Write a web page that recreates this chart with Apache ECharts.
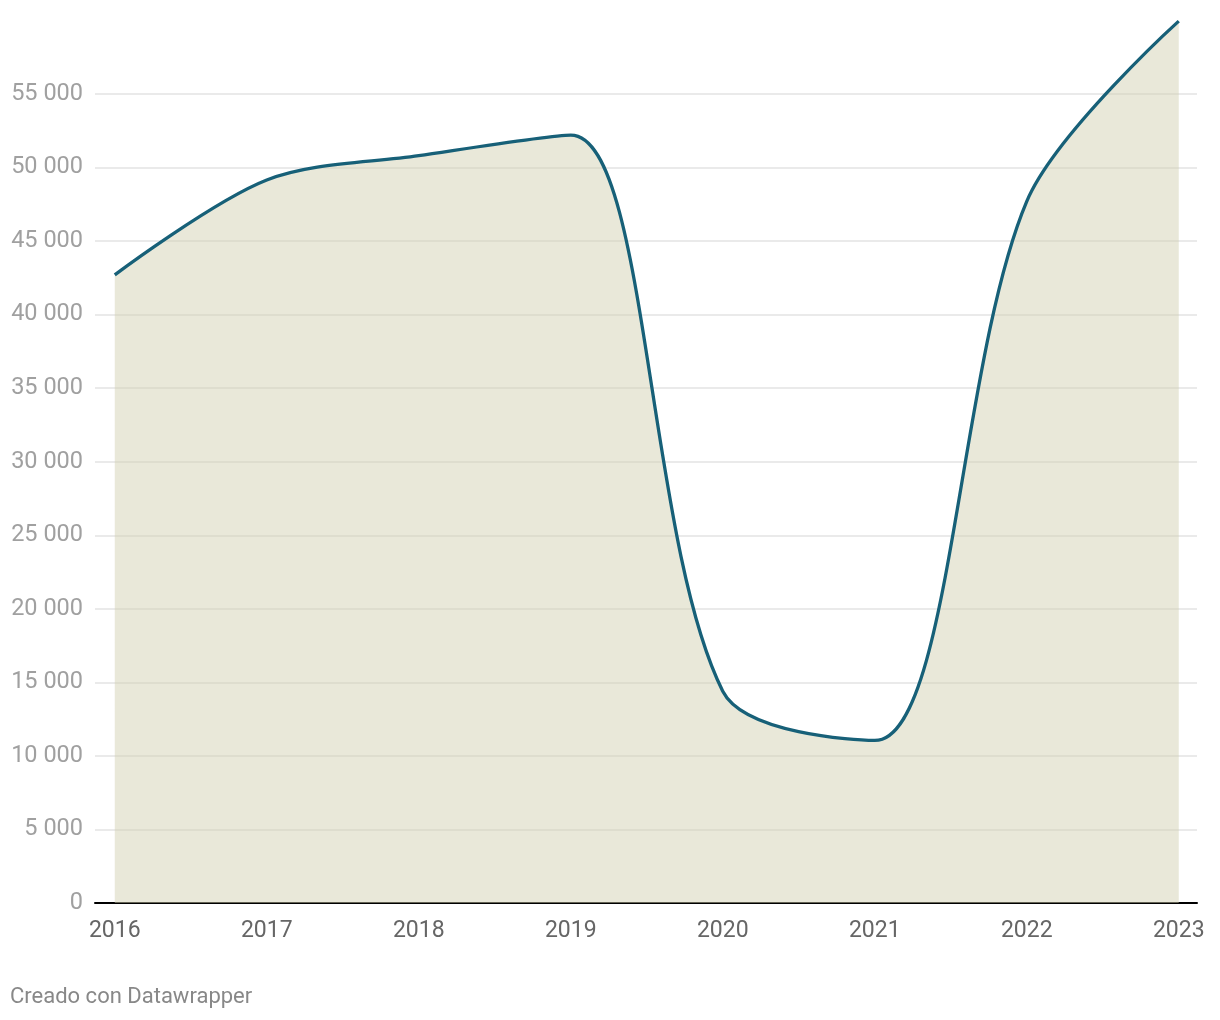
<!DOCTYPE html>
<html>
<head>
<meta charset="utf-8">
<script src="https://cdn.jsdelivr.net/npm/echarts@6/dist/echarts.min.js"></script>
<style>
html,body{margin:0;padding:0;background:#fff;}
#chart{width:1220px;height:1020px;}
</style>
</head>
<body>
<div id="chart"></div>
<script>
const years = [2016, 2017, 2018, 2019, 2020, 2021, 2022, 2023];
const values = [42700, 49150, 50800, 52200, 14400, 11050, 47700, 59950];
const yTicks = [0, 5000, 10000, 15000, 20000, 25000, 30000, 35000, 40000, 45000, 50000, 55000];

const fmt = v => String(v).replace(/\B(?=(\d{3})+(?!\d))/g, ' ');

const chart = echarts.init(document.getElementById('chart'), null, {renderer: 'canvas'});
chart.setOption({
  animation: false,
  backgroundColor: '#ffffff',
  textStyle: {fontFamily: 'Roboto'},
  grid: {left: 95, right: 23, top: 20.4, bottom: 117, containLabel: false},
  graphic: [{
    type: 'text', left: 10, top: 986,
    style: {text: 'Creado con Datawrapper', fill: '#888888', fontSize: 22, fontFamily: 'Roboto'}
  }],
  xAxis: {
    type: 'value',
    min: 2015.87,
    max: 2023.12,
    axisLine: {show: true, lineStyle: {color: '#000000', width: 2}},
    axisTick: {show: false},
    splitLine: {show: false},
    axisLabel: {
      customValues: years,
      color: '#666666',
      fontSize: 23,
      margin: 17,
      formatter: v => String(Math.round(v))
    }
  },
  yAxis: {
    type: 'value',
    min: 0,
    max: 60000,
    interval: 5000,
    axisLine: {show: false},
    axisTick: {show: false},
    splitLine: {show: true, showMaxLine: false, lineStyle: {color: '#e3e3e3', width: 1.5}},
    axisLabel: {
      showMaxLabel: false,
      color: '#a0a0a0',
      fontSize: 23.5,
      margin: 12,
      formatter: v => fmt(v)
    }
  },
  series: [{
    type: 'line',
    data: years.map((y, i) => [y, values[i]]),
    smooth: 0.32,
    symbol: 'none',
    lineStyle: {color: '#176078', width: 3.3},
    areaStyle: {color: 'rgba(210,206,176,0.48)', opacity: 1, origin: 'start'},
    z: 3
  }]
});
</script>
</body>
</html>
